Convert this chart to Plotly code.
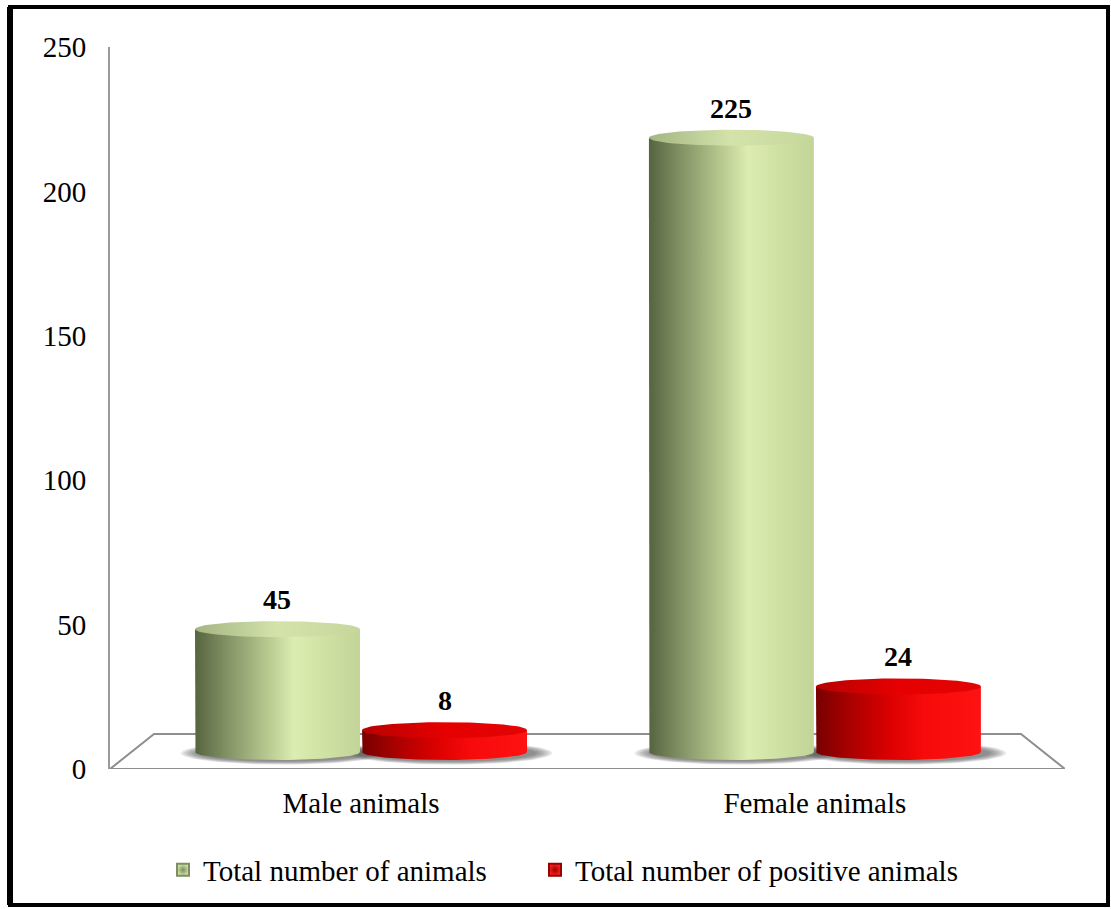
import numpy as np
import plotly.graph_objects as go

# ---- data -------------------------------------------------------------
categories = ["Male animals", "Female animals"]
series_names = ["Total number of animals", "Total number of positive animals"]
total_animals = [45, 225]
positive_animals = [8, 24]
y_ticks = [0, 50, 100, 150, 200, 250]

# ---- styling ----------------------------------------------------------
FONT = "Liberation Serif, Times New Roman, serif"
W, H = 1111, 909
M_L, M_R, M_T, M_B = 110, 46, 47, 140
PLOT_W = W - M_L - M_R
PLOT_H = H - M_T - M_B

X_RANGE = [-0.553, 1.551]
Y_RANGE = [0, 250]
Y2_RANGE = [-6.23, 258.24]         # bar plane (sits a little deeper than the wall)

HALF_W = 0.1817                    # cylinder half width, category units
OFFSETS = [-0.184, 0.184]          # series offsets inside a category
RY = 2.93                          # vertical radius of cylinder ellipses, bar-plane units

body_scales = [
    [[0.0, "#56643f"], [0.18, "#7f8f62"], [0.42, "#b3c48c"], [0.6, "#dcedb1"],
     [0.8, "#cfe0a3"], [1.0, "#c2d497"]],
    [[0.0, "#780000"], [0.2, "#a80000"], [0.45, "#dc0000"], [0.65, "#f60a0a"],
     [1.0, "#ff1212"]],
]
top_scales = [
    [[0.0, "#a5b584"], [0.5, "#d3e3aa"], [1.0, "#c6d79e"]],
    [[0.0, "#b80000"], [0.5, "#e60000"], [1.0, "#e20404"]],
]
legend_colors = [("#d2e2a8", "#7e8e60"), ("#ff2020", "#9a0000")]
legend_left_px = [163, 535]        # left edge of each legend entry

series_values = [total_animals, positive_animals]


def px_to_paper_x(px):
    return (px - M_L) / PLOT_W


def px_to_paper_y(py):
    return (H - M_B - py) / PLOT_H


def ellipse(cx, cy, rx, ry, n=90):
    t = np.linspace(0, 2 * np.pi, n)
    return cx + rx * np.cos(t), cy + ry * np.sin(t)


def cylinder_body(cx, top, rx, ry, n=60):
    t = np.linspace(np.pi, 2 * np.pi, n)
    xs = np.concatenate([[cx - rx], cx + rx * np.cos(t), [cx + rx, cx - rx]])
    ys = np.concatenate([[top], ry * np.sin(t), [top, top]])
    return xs, ys


fig = go.Figure()

# soft shadows under the cylinders: stacked translucent ellipses
for s, values in enumerate(series_values):
    for c, v in enumerate(values):
        cx = c + OFFSETS[s]
        for k in range(7):
            f = k / 6
            xs, ys = ellipse(cx + 0.012, -0.4,
                             HALF_W * (1.24 - 0.2 * f), RY * (1.45 - 0.4 * f))
            fig.add_trace(go.Scatter(
                x=xs, y=ys, yaxis="y2", mode="lines", line=dict(width=0),
                fill="toself", fillcolor="rgba(80,80,80,0.13)",
                hoverinfo="skip", showlegend=False))

# cylinder bodies and tops
for s, values in enumerate(series_values):
    for c, v in enumerate(values):
        cx = c + OFFSETS[s]
        bx, by = cylinder_body(cx, v, HALF_W, RY)
        fig.add_trace(go.Scatter(
            x=bx, y=by, yaxis="y2", mode="lines", line=dict(width=0),
            fill="toself",
            fillgradient=dict(type="horizontal", colorscale=body_scales[s]),
            hoverinfo="skip", showlegend=False))
        tx, ty = ellipse(cx, v, HALF_W, RY)
        fig.add_trace(go.Scatter(
            x=tx, y=ty, yaxis="y2", mode="lines", line=dict(width=0),
            fill="toself",
            fillgradient=dict(type="horizontal", colorscale=top_scales[s]),
            hoverinfo="skip", showlegend=False))
        fig.add_annotation(
            x=cx, y=v, yref="y2", text=f"<b>{v}</b>", showarrow=False,
            yanchor="bottom", yshift=12,
            font=dict(family=FONT, size=28, color="black"))

# legend entries, one legend box per series
legend_ids = ["legend", "legend2"]
for s, name in enumerate(series_names):
    fill, edge = legend_colors[s]
    fig.add_trace(go.Scatter(
        x=[None], y=[None], mode="markers", name=name, legend=legend_ids[s],
        marker=dict(symbol="square", size=16, color=fill,
                    gradient=dict(type="radial", color=edge),
                    line=dict(width=1, color=edge))))

# floor of the 3-D plot area
floor = "M -0.553,0 L -0.456,12.1 L 1.454,12.1 L 1.551,0 Z"
fig.add_shape(type="path", path=floor, xref="x", yref="y",
              line=dict(color="#8e8e8e", width=2), layer="below")

# outer frame
fig.add_shape(type="rect", xref="paper", yref="paper",
              x0=px_to_paper_x(10), x1=px_to_paper_x(1108),
              y0=px_to_paper_y(905), y1=px_to_paper_y(7),
              line=dict(color="black", width=4))
fig.add_shape(type="line", xref="paper", yref="paper",
              x0=px_to_paper_x(10), x1=px_to_paper_x(10),
              y0=px_to_paper_y(905), y1=px_to_paper_y(7),
              line=dict(color="black", width=6))

legend_style = dict(orientation="h", xanchor="left",
                    y=px_to_paper_y(870), yanchor="middle",
                    font=dict(family=FONT, size=29), itemsizing="constant",
                    bgcolor="rgba(0,0,0,0)")

fig.update_layout(
    width=W, height=H,
    margin=dict(l=M_L, r=M_R, t=M_T, b=M_B),
    paper_bgcolor="white", plot_bgcolor="white",
    font=dict(family=FONT, size=29, color="black"),
    xaxis=dict(range=X_RANGE, tickvals=[0, 1], ticktext=categories,
               showgrid=False, zeroline=False, showline=False, ticks="",
               ticklabelstandoff=14, fixedrange=True),
    yaxis=dict(range=Y_RANGE, tickvals=y_ticks, showgrid=False, zeroline=False,
               showline=True, linecolor="#9a9a9a", linewidth=2, ticks="",
               ticklabelstandoff=16, fixedrange=True),
    yaxis2=dict(range=Y2_RANGE, overlaying="y", visible=False, fixedrange=True),
    legend=dict(x=px_to_paper_x(legend_left_px[0]), **legend_style),
    legend2=dict(x=px_to_paper_x(legend_left_px[1]), **legend_style),
    showlegend=True,
)

fig.write_html("out.html")
